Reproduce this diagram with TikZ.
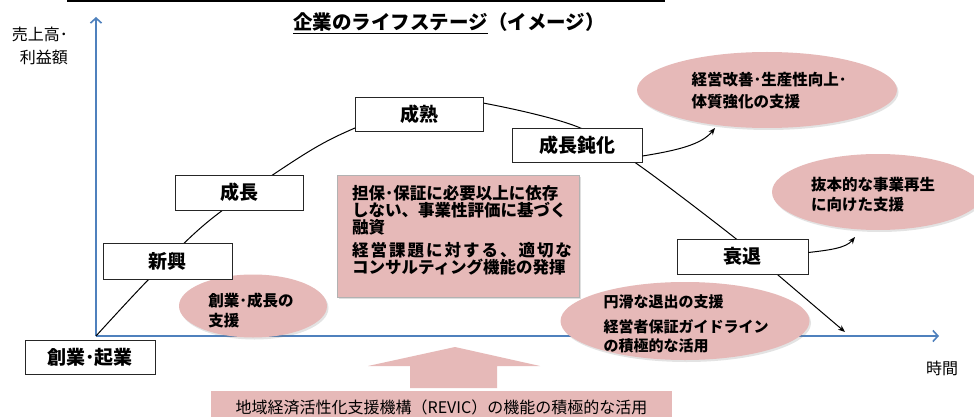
\documentclass[tikz,border=0pt]{standalone}
\usepackage{fontspec}
\setmainfont{Noto Sans CJK JP}
\usetikzlibrary{shapes.geometric,shadows,arrows.meta}
\definecolor{axisblue}{RGB}{79,129,189}
\definecolor{pinkfill}{RGB}{230,185,184}
\begin{document}
\begin{tikzpicture}[x=1pt,y=-1pt,
  stagebox/.style={draw=black!85, line width=0.9pt, fill=white, minimum width=129pt, minimum height=35pt, font=\fontsize{19}{21}\selectfont\bfseries, inner sep=0pt},
  pinkell/.style={ellipse, fill=pinkfill, draw=none, inner sep=0pt, drop shadow={opacity=0.22, shadow xshift=1.5pt, shadow yshift=-2pt}},
  elltext/.style={align=left, font=\fontsize{15}{19.5}\selectfont\bfseries, inner sep=0pt},
  conn/.style={-{Stealth[length=7pt,width=5.5pt]}, line width=1pt},
  axisline/.style={axisblue, line width=1.6pt, -{Straight Barb[length=5pt,width=11pt]}},
]
\clip (0,0) rectangle (974,417);
\fill[white] (0,0) rectangle (974,417);
% cut-off heading at top
\fill[black] (67,0) rectangle (665,2.5);
% title
\node[font=\fontsize{19.5}{22}\selectfont\bfseries, inner sep=0pt] (title) at (449,23) {\underline{企業のライフステージ}（イメージ）};
% axes
\coordinate (O) at (96,336);
\coordinate (ytop) at (96,17);
\coordinate (xend) at (939,336);
\draw[axisline] (O) -- (ytop);
\draw[axisline] (O) -- (xend);
\node[font=\fontsize{16}{23}\selectfont, align=right, anchor=east, inner sep=0pt] (ylab) at (68,46) {売上高･\\利益額};
\node[font=\fontsize{16}{18}\selectfont, inner sep=0pt] (xlab) at (942,368) {時間};
% life curve
\coordinate (cend) at (845,332);
\draw[conn] plot[smooth, tension=0.55] coordinates {(O) (150,278) (210,220) (300,157) (355,128) (432,100) (483,103) (578,127) (640,166) (735,238) (778,275) (cend)};
% ellipses
\node[pinkell, minimum width=260pt, minimum height=76pt] (e1) at (767,90) {};
\node[elltext, font=\fontsize{15.5}{22}\selectfont\bfseries] (t1) at (769,91) {経営改善･生産性向上･\\体質強化の支援};
\node[pinkell, minimum width=212pt, minimum height=76pt] (e2) at (878,192) {};
\node[elltext, font=\fontsize{15.5}{20}\selectfont\bfseries] (t2) at (873,195) {抜本的な事業再生\\に向けた支援};
\node[pinkell, minimum width=148pt, minimum height=63pt] (e3) at (253,306) {};
\node[elltext, font=\fontsize{15.5}{20}\selectfont\bfseries] (t3) at (251,310) {創業･成長の\\支援};
\node[pinkell, minimum width=249pt, minimum height=78pt] (e4) at (685,321) {};
\node[elltext] (t4) at (686,324) {円滑な退出の支援\\[5pt]経営者保証ガイドライン\\の積極的な活用};
% pink box
\node[fill=pinkfill, draw=black!30, line width=0.6pt, minimum width=242pt, minimum height=122pt, inner sep=0pt, drop shadow={opacity=0.25, shadow xshift=1.5pt, shadow yshift=-1.5pt}] (pbox) at (458,236) {};
\node[align=left, anchor=west, inner sep=0pt, font=\fontsize{16.5}{17}\selectfont\bfseries] (ptext) at (352,230) {担保･保証に必要以上に依存\\しない、事業性評価に基づく\\融資\\[6pt]{\addfontfeature{LetterSpace=12}経営課題に対する、適切な}\\コンサルティング機能の発揮};
% stage boxes
\node[stagebox, minimum width=130pt, minimum height=34pt] (s0) at (90,357) {創業･起業};
\node[stagebox, minimum height=36pt] (s1) at (167.5,261) {新興};
\node[stagebox, minimum width=128pt] (s2) at (239,192.5) {成長};
\node[stagebox, minimum width=128pt, minimum height=34pt] (s3) at (419,114) {成熟};
\node[stagebox, minimum width=130pt, minimum height=34pt] (s4) at (577,145) {成長鈍化};
\node[stagebox, minimum width=131pt] (s5) at (742.5,256.5) {衰退};
% arrows to ellipses
\coordinate (a1) at (715,128);
\coordinate (a2) at (855,237);
\draw[conn] ([yshift=-11pt]s4.east) .. controls (680,150) and (702,144) .. (a1);
\draw[conn] ([yshift=4pt]s5.east) .. controls (830,250) and (846,248) .. (a2);
% big up arrow
\fill[pinkfill] (455,347) -- (540,366) -- (497,366) -- (497,388) -- (410,388) -- (410,366) -- (368,366) -- cycle;
% REVIC box
\node[fill=pinkfill, minimum width=461pt, minimum height=32pt, inner sep=0pt, anchor=north, font=\fontsize{16}{18}\selectfont] (revic) at (441.5,391) {地域経済活性化支援機構（REVIC）の機能の積極的な活用};
\end{tikzpicture}
\end{document}
